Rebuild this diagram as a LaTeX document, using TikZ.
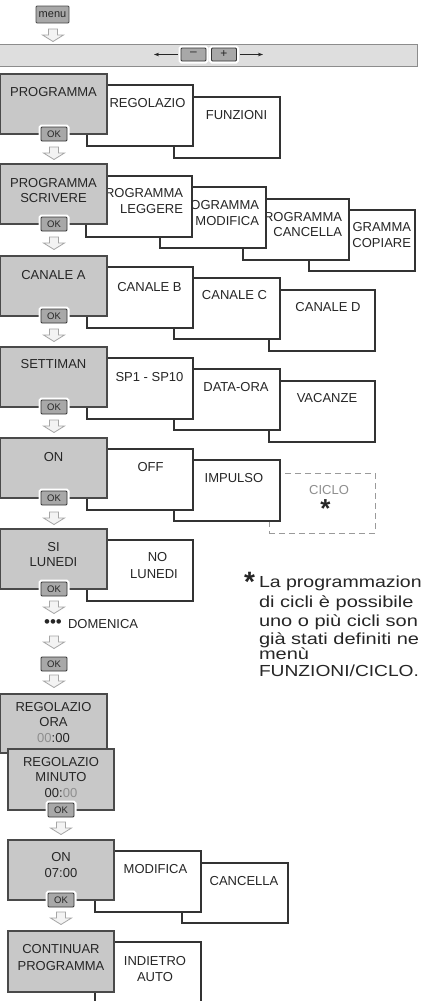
\documentclass[tikz,border=0pt]{standalone}
\usepackage{fontspec}
\setmainfont{Liberation Sans}
\usetikzlibrary{arrows.meta}
\definecolor{boxgray}{HTML}{C8C8C8}
\definecolor{grayline}{HTML}{4A4A4A}
\definecolor{wline}{HTML}{333333}
\definecolor{txt}{HTML}{262626}
\definecolor{okgray}{HTML}{A8A8A8}
\definecolor{barfill}{HTML}{DEDEDE}
\definecolor{barline}{HTML}{8C8C8C}
\definecolor{arrline}{HTML}{A6A6A6}
\definecolor{arrfill}{HTML}{F3F3F3}
\definecolor{dashgray}{HTML}{9A9A9A}
\definecolor{digitgray}{HTML}{8E8E8E}
\tikzset{
  base/.style={inner sep=0pt, outer sep=0pt},
  gbox/.style={base, draw=grayline, fill=boxgray, line width=1.1pt, minimum width=107pt, minimum height=60pt, anchor=north west},
  wbox/.style={base, draw=wline, fill=white, line width=1.1pt, minimum width=106pt, minimum height=61pt, anchor=north west},
  dbox/.style={base, draw=dashgray, line width=1pt, dash pattern=on 6pt off 4pt, minimum width=106pt, minimum height=60pt, anchor=north west},
  lbl/.style={base, text=txt, font=\fontsize{13}{15}\selectfont},
  rlbl/.style={lbl, anchor=east},
  okbtn/.style={base, draw=wline, fill=okgray, line width=0.8pt, rounded corners=1pt, minimum width=26pt, minimum height=14pt, text=txt, font=\fontsize{9.5}{10}\selectfont, preaction={draw=white, line width=5pt}},
  arrstyle/.style={draw=arrline, fill=arrfill, line width=0.8pt, line join=miter},
  dnarrow/.pic={\draw[arrstyle] (-4.5,0) -- (4.5,0) -- (4.5,6) -- (10.5,6) -- (0,12.5) -- (-10.5,6) -- (-4.5,6) -- cycle;},
  barr/.style={draw=txt, line width=0.7pt, -{Stealth[length=5pt, width=3.5pt]}},
  note/.style={base, anchor=base west, text=txt, font=\fontsize{16}{18}\selectfont},
  starmark/.style={base, text=txt, font=\bfseries\fontsize{26}{26}\selectfont},
}
\begin{document}
\begin{tikzpicture}[x=1pt, y=-1pt]
\useasboundingbox (0,0) rectangle (422,1001);
\clip (0,0) rectangle (422,1001);
\fill[white] (0,0) rectangle (422,1001);

% menu and bar
\node[base, draw=grayline, fill=okgray, line width=0.8pt, rounded corners=1pt, minimum width=33pt, minimum height=17pt, text=txt, font=\fontsize{11}{12}\selectfont] (menu) at (52.5,14.5) {menu};
\pic at (53,29) {dnarrow};
\node[base, draw=barline, fill=barfill, line width=1pt, minimum width=418pt, minimum height=22pt, anchor=north west] (bar) at (-1,44) {};
\node[okbtn, minimum width=25pt, minimum height=13pt, font=\fontsize{12}{12}\selectfont] (minus) at (193.5,54.5) {\raisebox{1pt}{--}};
\node[okbtn, minimum width=25pt, minimum height=13pt, font=\fontsize{12}{12}\selectfont] (plus) at (224,54.5) {+};
\coordinate (lend) at (154,54.5);
\coordinate (rend) at (263,54.5);
\draw[barr] ([xshift=-3pt]minus.west) -- (lend);
\draw[barr] ([xshift=3pt]plus.east) -- (rend);

% row 1
\node[wbox] (funz) at (174,97) {};
\node[lbl] (tfunz) at (236.5,115) {FUNZIONI};
\node[wbox] (rego) at (87,85) {};
\node[lbl] (trego) at (147.5,103) {REGOLAZIO};
\node[gbox] (prog) at (0,74) {};
\node[lbl] (tprog) at (53.5,92) {PROGRAMMA};
\node[okbtn] (ok1) at (54,134) {OK};
\pic at (54,147) {dnarrow};

% row 2
\node[wbox] (copi) at (309,210) {};
\node[rlbl] (tcopia) at (411,227) {GRAMMA};
\node[rlbl] (tcopib) at (411,243) {COPIARE};
\node[wbox] (canc) at (243,199) {};
\node[rlbl] (tcanca) at (342,217) {ROGRAMMA};
\node[rlbl] (tcancb) at (342,232) {CANCELLA};
\node[wbox] (modi) at (160,187) {};
\node[rlbl] (tmodia) at (259,205) {OGRAMMA};
\node[rlbl] (tmodib) at (259,221) {MODIFICA};
\node[wbox] (legg) at (86,176) {};
\node[rlbl] (tlegga) at (183,193) {ROGRAMMA};
\node[rlbl] (tleggb) at (183,209) {LEGGERE};
\node[gbox] (scri) at (0,164) {};
\node[lbl] (tscria) at (53.5,183) {PROGRAMMA};
\node[lbl] (tscrib) at (53.5,198) {SCRIVERE};
\node[okbtn] (ok2) at (54,224) {OK};
\pic at (54,237) {dnarrow};

% row 3
\node[wbox] (cand) at (269,290) {};
\node[lbl] (tcand) at (328,307) {CANALE D};
\node[wbox] (canc3) at (174,278) {};
\node[lbl] (tcanc3) at (234.5,295) {CANALE C};
\node[wbox] (canb) at (87,267) {};
\node[lbl] (tcanb) at (149.5,287) {CANALE B};
\node[gbox] (cana) at (0,256) {};
\node[lbl] (tcana) at (53.5,275) {CANALE A};
\node[okbtn] (ok3) at (54,316) {OK};
\pic at (54,329) {dnarrow};

% row 4
\node[wbox] (vaca) at (269,381) {};
\node[lbl] (tvaca) at (327,398) {VACANZE};
\node[wbox] (data) at (174,369) {};
\node[lbl] (tdata) at (236,387) {DATA-ORA};
\node[wbox] (spx) at (87,358) {};
\node[lbl] (tspx) at (149.5,377) {SP1 - SP10};
\node[gbox] (sett) at (0,347) {};
\node[lbl] (tsett) at (53.5,364) {SETTIMAN};
\node[okbtn] (ok4) at (54,407) {OK};
\pic at (54,420) {dnarrow};

% row 5
\node[dbox] (cicl) at (269,473) {};
\node[lbl, text=digitgray] (tcicl) at (329,490) {CICLO};
\node[starmark] (tstar) at (325.5,509) {*};
\node[wbox] (impu) at (174,460) {};
\node[lbl] (timpu) at (234,478) {IMPULSO};
\node[wbox] (off) at (87,449) {};
\node[lbl] (toff) at (150.5,467) {OFF};
\node[gbox] (on) at (0,438) {};
\node[lbl] (ton) at (53.5,457) {ON};
\node[okbtn] (ok5) at (54,498) {OK};
\pic at (54,512) {dnarrow};

% row 6
\node[wbox] (nolu) at (87,540) {};
\node[lbl] (tnolua) at (157.5,557) {NO};
\node[lbl] (tnolub) at (154,574) {LUNEDI};
\node[gbox] (silu) at (0,529) {};
\node[lbl] (tsilua) at (53.5,547) {SI};
\node[lbl] (tsilub) at (53.5,562) {LUNEDI};
\node[okbtn] (ok6) at (54,589) {OK};
\pic at (54,601) {dnarrow};
\node[base, text=txt, font=\fontsize{17}{17}\selectfont] (dots) at (53,624) {•••};
\node[lbl, anchor=west] (tdom) at (68,624) {DOMENICA};
\pic at (54,636) {dnarrow};
\node[okbtn] (ok7) at (54,664) {OK};
\pic at (54,675) {dnarrow};

% row 7
\node[gbox, minimum height=59pt] (ora) at (0,694) {};
\node[lbl] (torya) at (53.5,707) {REGOLAZIO};
\node[lbl] (toryb) at (53.5,722) {ORA};
\node[lbl] (toryc) at (53.5,738) {{\color{digitgray}00}:00};
\node[gbox, minimum width=106pt, minimum height=61pt] (minu) at (8,749) {};
\node[lbl] (tmina) at (61,762) {REGOLAZIO};
\node[lbl] (tminb) at (61,777) {MINUTO};
\node[lbl] (tminc) at (61,793) {00:{\color{digitgray}00}};
\node[okbtn] (ok8) at (61,810) {OK};
\pic at (61,822) {dnarrow};

% row 8
\node[wbox, minimum height=60pt] (canc8) at (182,863) {};
\node[lbl] (tcanc8) at (244,881) {CANCELLA};
\node[wbox] (modi8) at (95,851) {};
\node[lbl] (tmodi8) at (155.5,869) {MODIFICA};
\node[gbox, minimum width=106pt] (on8) at (8,840) {};
\node[lbl] (ton8a) at (61,857) {ON};
\node[lbl] (ton8b) at (61,873) {07:00};
\node[okbtn] (ok9) at (61,900) {OK};
\pic at (61,912) {dnarrow};

% row 9
\node[wbox] (indi) at (95,942) {};
\node[lbl] (tindia) at (155,961) {INDIETRO};
\node[lbl] (tindib) at (155,977) {AUTO};
\node[gbox, minimum width=106pt, minimum height=61pt] (cont) at (8,931) {};
\node[lbl] (tconta) at (61,949) {CONTINUAR};
\node[lbl] (tcontb) at (61,966) {PROGRAMMA};

% footnote
\node[starmark, font=\bfseries\fontsize{28}{28}\selectfont] (nstar) at (249.5,582) {*};
\node[note] (n1) at (259,587) {\scalebox{1.22}[1]{La programmazion}};
\node[note] (n2) at (259,607) {\scalebox{1.25}[1]{di cicli è possibile}};
\node[note] (n3) at (259,626) {\scalebox{1.25}[1]{uno o più cicli son}};
\node[note] (n4) at (259,644) {\scalebox{1.25}[1]{già stati definiti ne}};
\node[note] (n5) at (259,659) {\scalebox{1.25}[1]{menù}};
\node[note] (n6) at (259,676) {\scalebox{1.2}[1]{FUNZIONI/CICLO.}};
\end{tikzpicture}
\end{document}
